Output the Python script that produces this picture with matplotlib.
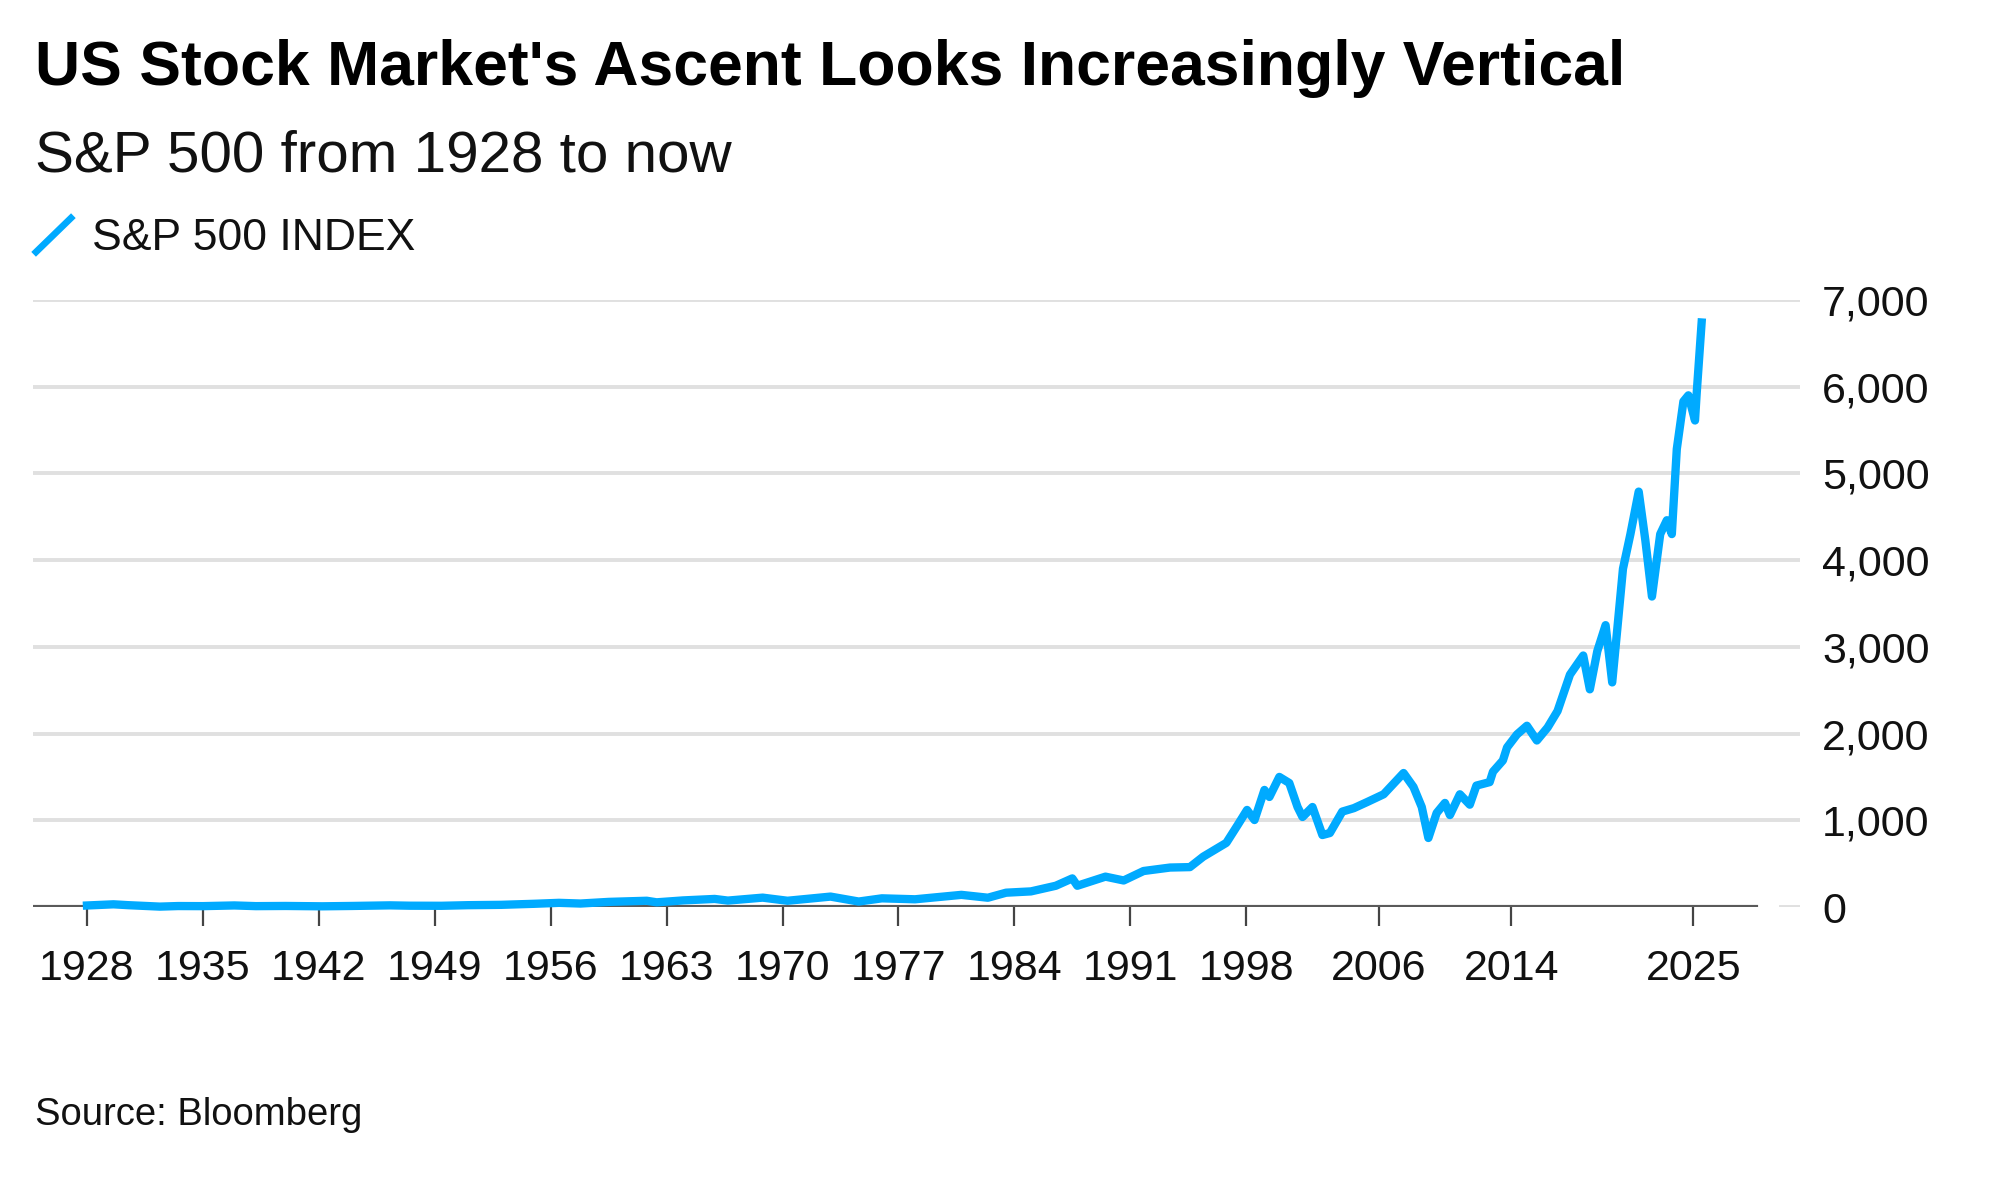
import matplotlib
matplotlib.use("Agg")
import matplotlib.pyplot as plt
from matplotlib.lines import Line2D

plt.rcParams['font.family'] = ['Liberation Sans', 'DejaVu Sans']

# S&P 500 level (decimal year, index level)
years = [1928.0, 1929.6, 1930.5, 1932.4, 1933.5, 1935.0, 1936.9, 1938.2, 1940.0,
         1942.2, 1944.0, 1946.3, 1947.5, 1949.4, 1951.0, 1953.0, 1955.0, 1956.5,
         1957.8, 1959.5, 1961.8, 1962.4, 1964.0, 1965.9, 1966.7, 1968.8, 1970.3,
         1972.9, 1974.6, 1976.0, 1978.0, 1980.8, 1982.4, 1983.5, 1985.0, 1986.5,
         1987.5, 1987.8, 1989.5, 1990.6, 1991.8, 1993.4, 1994.6, 1995.4, 1996.8,
         1997.5, 1998.05, 1998.5, 1999.1, 1999.4, 2000.0, 2000.6, 2001.1, 2001.4,
         2002.0, 2002.6, 2003.05, 2003.8, 2004.5, 2005.3, 2006.3, 2007.5, 2008.1,
         2008.6, 2009.0, 2009.5, 2010.0, 2010.3, 2010.9, 2011.5, 2011.9, 2012.7,
         2012.9, 2013.5, 2013.75, 2014.35, 2014.95, 2015.55, 2016.2, 2016.8,
         2017.55, 2018.35, 2018.75, 2019.2, 2019.7, 2020.1, 2020.4, 2020.75,
         2021.2, 2021.7, 2022.1, 2022.5, 2023.0, 2023.4, 2023.7, 2024.0, 2024.4,
         2024.7, 2025.1, 2025.2, 2025.5]
spx = [17.5, 31, 21, 4.5, 11, 10, 18, 10, 12,
       8, 12, 19, 15, 14, 21, 25, 37, 48,
       40, 59, 72, 54, 76, 93, 74, 108, 72,
       120, 63, 100, 89, 140, 107, 165, 180, 245,
       330, 245, 350, 306, 415, 455, 460, 580, 740,
       950, 1119, 1003, 1350, 1269, 1500, 1430, 1153, 1038,
       1153, 830, 853, 1100, 1140, 1210, 1300, 1545, 1384,
       1153, 796, 1084, 1200, 1060, 1300, 1180, 1400, 1440,
       1560, 1690, 1840, 1990, 2090, 1920, 2070, 2260,
       2680, 2900, 2510, 2950, 3250, 2590, 3190, 3900,
       4300, 4790, 4230, 3580, 4300, 4460, 4300, 5280, 5830,
       5900, 5610, 5920, 6740]

xtick_years = [1928, 1935, 1942, 1949, 1956, 1963, 1970, 1977, 1984, 1991, 1998, 2006, 2014, 2025]
ytick_vals = [0, 1000, 2000, 3000, 4000, 5000, 6000, 7000]

blue = '#00aaff'

fig = plt.figure(figsize=(20, 11.95), dpi=100)
ax = fig.add_axes([0.0165, 0.241, 0.8835, 0.508])

# gridlines
for v in ytick_vals[1:]:
    ax.axhline(v, color='#e0e0e0', lw=2.8, zorder=0)
ax.axhline(0, xmin=0.989, xmax=1.0, color='#e0e0e0', lw=2.8, zorder=0)
ax.axhline(0, xmin=0.0, xmax=0.975, color='#5a5a5a', lw=3, zorder=1)

ax.plot(years, spx, color=blue, lw=6, solid_joinstyle='round', zorder=3, clip_on=False)

ax.set_xlim(1924.74, 2031.44)
ax.set_ylim(0, 7000)
for s in ax.spines.values():
    s.set_visible(False)

ax.set_xticks(xtick_years)
ax.set_xticklabels([str(y) for y in xtick_years])
ax.tick_params(axis='x', direction='out', length=14, width=1.6, color='#444444',
               pad=16, labelsize=31, labelcolor='#111111')

ax.yaxis.tick_right()
ax.set_yticks(ytick_vals)
ax.set_yticklabels([f'{v:,}' for v in ytick_vals])
ax.tick_params(axis='y', length=0, pad=16, labelsize=31, labelcolor='#111111')

# titles
fig.text(0.0175, 1 - 85 / 1195, "US Stock Market's Ascent Looks Increasingly Vertical",
         fontsize=45, fontweight='bold', color='#000000', va='baseline', ha='left')
fig.text(0.0175, 1 - 171 / 1195, "S&P 500 from 1928 to now",
         fontsize=42, color='#111111', va='baseline', ha='left')

# legend
fig.add_artist(Line2D([36 / 2000, 71 / 2000], [1 - 252 / 1195, 1 - 218 / 1195],
                      color=blue, lw=4.8, transform=fig.transFigure))
fig.text(92 / 2000, 1 - 250 / 1195, "S&P 500 INDEX", fontsize=32, color='#111111',
         va='baseline', ha='left')

fig.text(0.0175, 1 - 1125 / 1195, "Source: Bloomberg", fontsize=27.5, color='#111111',
         va='baseline', ha='left')

fig.savefig('out.png', dpi=100, facecolor='white')
